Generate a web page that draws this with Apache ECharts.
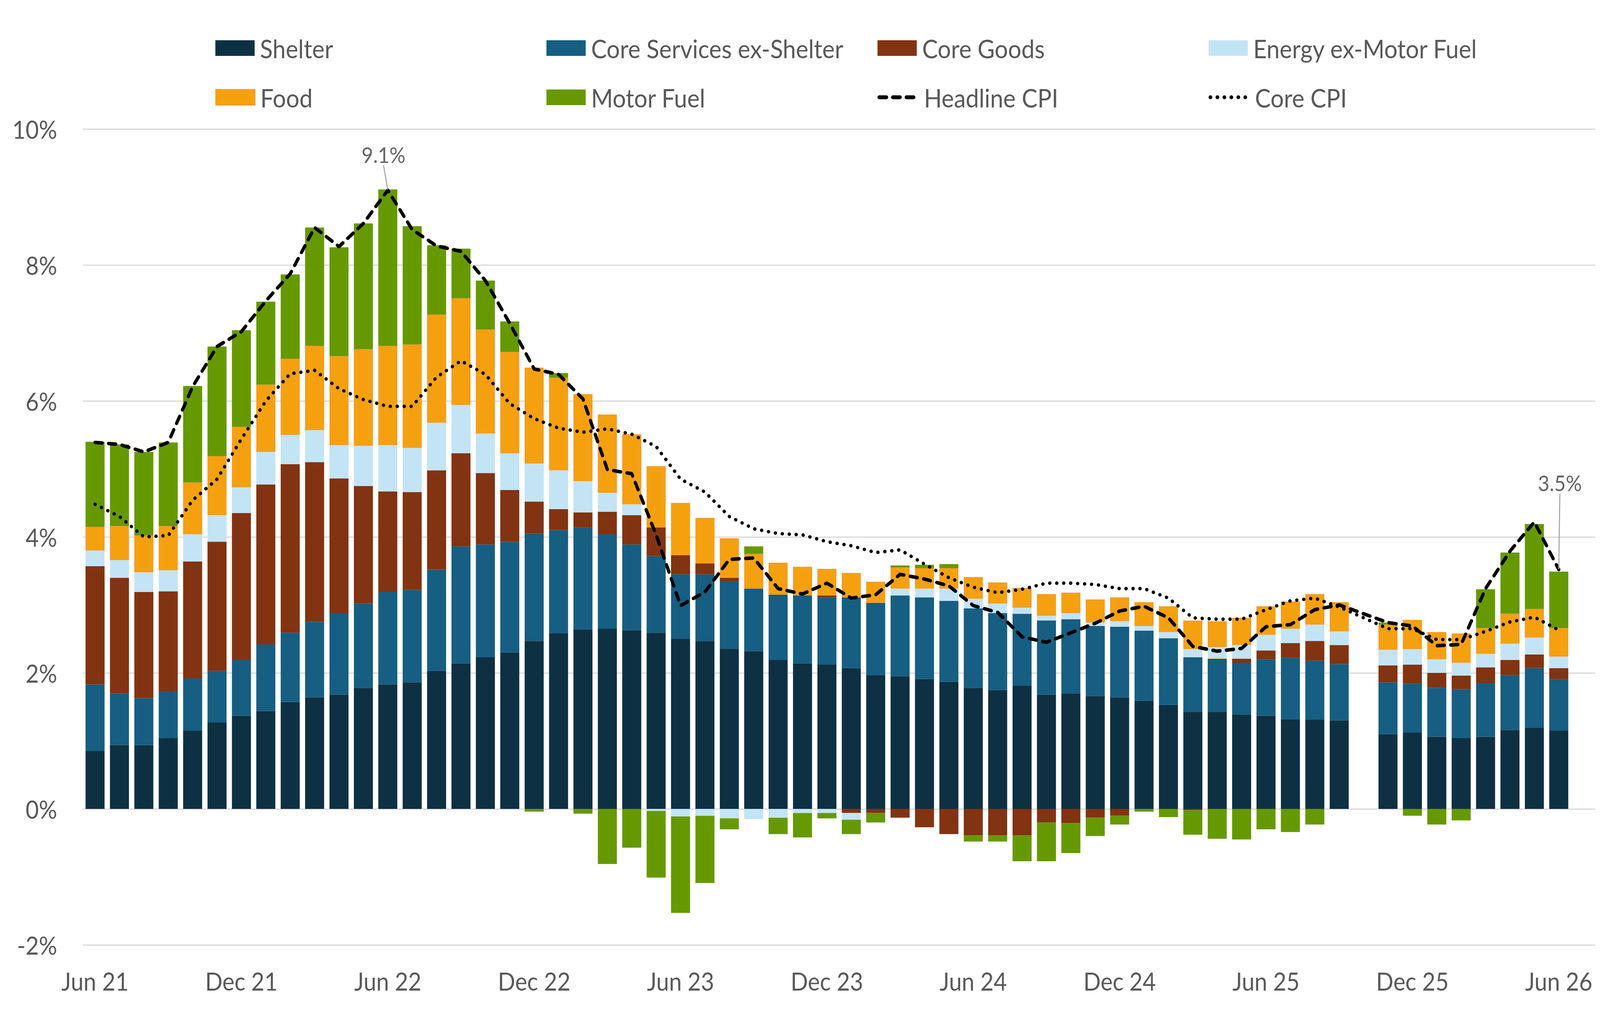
<!DOCTYPE html>
<html>
<head>
<meta charset="utf-8">
<script src="https://cdn.jsdelivr.net/npm/echarts@6/dist/echarts.min.js"></script>
<style>
html,body{margin:0;padding:0;background:#fff;overflow:hidden;}
#chart{width:4480px;height:2600px;transform-origin:0 0;}
</style>
</head>
<body>
<div id="chart"></div>
<script>
// Categories (monthly, Jun 21 .. Jul 26; Oct 25 and Jul 26 have no data)
const months = ["Jun 21","Jul 21","Aug 21","Sep 21","Oct 21","Nov 21","Dec 21","Jan 22","Feb 22","Mar 22","Apr 22","May 22",
"Jun 22","Jul 22","Aug 22","Sep 22","Oct 22","Nov 22","Dec 22","Jan 23","Feb 23","Mar 23","Apr 23","May 23",
"Jun 23","Jul 23","Aug 23","Sep 23","Oct 23","Nov 23","Dec 23","Jan 24","Feb 24","Mar 24","Apr 24","May 24",
"Jun 24","Jul 24","Aug 24","Sep 24","Oct 24","Nov 24","Dec 24","Jan 25","Feb 25","Mar 25","Apr 25","May 25",
"Jun 25","Jul 25","Aug 25","Sep 25","Oct 25","Nov 25","Dec 25","Jan 26","Feb 26","Mar 26","Apr 26","May 26",
"Jun 26","Jul 26"];

const shelter = [0.85,0.94,0.94,1.04,1.15,1.27,1.37,1.44,1.57,1.64,1.68,1.78,1.83,1.86,2.03,
2.14,2.23,2.30,2.47,2.58,2.64,2.65,2.63,2.59,2.50,2.47,2.35,2.32,2.19,2.14,
2.12,2.07,1.97,1.95,1.91,1.87,1.78,1.75,1.81,1.68,1.70,1.66,1.64,1.59,1.53,1.43,
1.43,1.39,1.37,1.32,1.31,1.30,null,1.10,1.12,1.06,1.04,1.06,1.16,1.19,1.15,null];

const coreServices = [0.98,0.76,0.69,0.69,0.77,0.76,0.82,0.98,1.02,1.11,1.20,1.24,1.36,1.36,1.49,
1.72,1.66,1.63,1.58,1.52,1.50,1.39,1.26,1.13,0.95,0.98,1.00,0.92,0.96,1.00,
0.99,1.04,1.06,1.19,1.20,1.19,1.17,1.13,1.06,1.09,1.09,1.03,1.04,1.03,0.98,0.80,
0.76,0.76,0.83,0.90,0.87,0.83,null,0.76,0.72,0.72,0.72,0.79,0.81,0.88,0.76,null];

const coreGoods = [1.74,1.70,1.56,1.47,1.72,1.90,2.16,2.35,2.48,2.35,1.98,1.73,1.48,1.44,1.46,
1.37,1.05,0.76,0.47,0.31,0.22,0.33,0.43,0.42,0.28,0.16,0.05,0.00,0.00,0.00,
0.03,-0.06,-0.06,-0.13,-0.27,-0.37,-0.39,-0.39,-0.39,-0.20,-0.21,-0.13,-0.10,0.00,0.00,-0.02,
0.02,0.06,0.13,0.22,0.29,0.28,null,0.25,0.28,0.22,0.20,0.23,0.22,0.20,0.16,null];

const energyExFuel = [0.23,0.26,0.29,0.31,0.40,0.39,0.38,0.48,0.43,0.47,0.49,0.59,0.68,0.65,0.70,
0.71,0.58,0.54,0.56,0.57,0.46,0.28,0.16,-0.03,-0.11,-0.10,-0.14,-0.15,-0.13,-0.06,
-0.06,-0.10,0.00,0.10,0.13,0.18,0.14,0.14,0.09,0.07,0.09,0.05,0.08,0.07,0.09,0.12,
0.17,0.20,0.23,0.21,0.24,0.20,null,0.23,0.23,0.20,0.19,0.20,0.24,0.25,0.17,null];

const food = [0.35,0.50,0.54,0.65,0.76,0.87,0.89,0.99,1.12,1.24,1.31,1.42,1.46,1.52,1.59,
1.57,1.53,1.49,1.41,1.36,1.28,1.15,1.03,0.90,0.77,0.67,0.58,0.51,0.47,0.42,
0.39,0.36,0.31,0.31,0.30,0.30,0.32,0.31,0.29,0.32,0.30,0.34,0.35,0.35,0.38,0.42,
0.38,0.40,0.42,0.40,0.45,0.43,null,0.37,0.43,0.40,0.43,0.38,0.44,0.42,0.42,null];

const motorFuel = [1.25,1.20,1.23,1.23,1.42,1.61,1.42,1.22,1.24,1.74,1.60,1.85,2.30,1.74,1.02,
0.73,0.72,0.45,-0.04,0.07,-0.07,-0.81,-0.57,-0.98,-1.42,-0.99,-0.16,0.11,-0.24,-0.36,
-0.08,-0.21,-0.14,0.03,0.05,0.06,-0.09,-0.09,-0.38,-0.57,-0.44,-0.27,-0.13,-0.04,-0.12,-0.36,
-0.44,-0.45,-0.30,-0.34,-0.23,0.00,null,0.03,-0.10,-0.23,-0.17,0.57,0.90,1.25,0.83,null];

const headlineCPI = [5.39,5.36,5.25,5.39,6.21,6.80,7.02,7.47,7.87,8.55,8.27,8.61,9.10,8.52,8.28,
8.20,7.77,7.14,6.47,6.39,6.03,4.99,4.93,4.03,2.99,3.19,3.67,3.69,3.24,3.16,
3.32,3.10,3.15,3.45,3.38,3.28,2.99,2.89,2.53,2.45,2.59,2.73,2.91,2.98,2.81,2.39,
2.32,2.36,2.68,2.71,2.93,3.00,null,2.74,2.69,2.40,2.42,3.24,3.79,4.22,3.52,null];

const coreCPI = [4.48,4.30,4.00,4.02,4.54,4.85,5.44,6.00,6.40,6.45,6.18,6.02,5.92,5.92,6.35,
6.59,6.39,5.96,5.74,5.60,5.54,5.59,5.51,5.33,4.85,4.66,4.30,4.12,4.05,4.03,
3.93,3.87,3.77,3.81,3.60,3.40,3.26,3.18,3.23,3.32,3.32,3.30,3.24,3.24,3.10,2.81,
2.79,2.79,2.93,3.06,3.10,2.97,null,2.65,2.65,2.49,2.49,2.61,2.75,2.82,2.63,null];

const yTicks = {min:-2, max:10, interval:2};
const annotatedMonths = ["Jun 22","Jun 26"];

// The browser viewport may be narrower than the 4480px design width: squeeze horizontally to fit.
const el = document.getElementById('chart');
const sx = Math.min(1, window.innerWidth / 4480);
el.style.transform = 'scaleX(' + sx + ')';

const FONT = 'Lato';
const TXT = '#595959';

const annotData = months.map((m,i)=> annotatedMonths.includes(m) ? headlineCPI[i] : null);

function barSeries(name, data, color, extra){
  return Object.assign({
    name, type:'bar', stack:'cpi', data,
    barCategoryGap:'22%',
    itemStyle:{color},
    emphasis:{disabled:true}
  }, extra||{});
}

const series = [
  barSeries('Shelter', shelter, '#0e3043'),
  barSeries('Core Services ex-Shelter', coreServices, '#165e82'),
  barSeries('Core Goods', coreGoods, '#823312'),
  barSeries('Energy ex-Motor Fuel', energyExFuel, '#c3e4f5'),
  barSeries('Food', food, '#f5a10f', {itemStyle:{color:'#f5a10f', borderColor:'#f7962a', borderWidth:2}}),
  barSeries('Motor Fuel', motorFuel, '#669900'),
  {
    name:'Headline CPI', type:'line', data:headlineCPI, connectNulls:true,
    symbol:'none', showSymbol:false, z:5,
    lineStyle:{color:'#000', width:9, type:[20,18], cap:'round', join:'round'},
    itemStyle:{color:'#000'}, emphasis:{disabled:true}
  },
  {
    name:'Core CPI', type:'line', data:coreCPI, connectNulls:true,
    symbol:'none', showSymbol:false, z:5,
    lineStyle:{color:'#000', width:9, type:[0.5,19], cap:'round', join:'round'},
    itemStyle:{color:'#000'}, emphasis:{disabled:true}
  },
  {
    name:'annot', type:'scatter', data:annotData, symbolSize:2, z:6,
    itemStyle:{color:'rgba(0,0,0,0)'},
    label:{show:true, position:'inside', fontFamily:FONT, fontSize:56, color:'#404040',
      formatter:(p)=> { const v = Array.isArray(p.value) ? p.value[1] : p.value; return v==null ? '' : Number(v).toFixed(1)+'%'; }},
    labelLine:{show:true, lineStyle:{color:'#a6a6a6', width:3}},
    labelLayout:(p)=> p.dataIndex===12 ? {dx:-12, dy:-92} : {dx:3, dy:-222},
    emphasis:{disabled:true}, silent:true
  }
];

const legendPos = [
  ['Shelter',603,0,'bar'], ['Core Services ex-Shelter',1530,0,'bar'], ['Core Goods',2457,0,'bar'], ['Energy ex-Motor Fuel',3384,0,'bar'],
  ['Food',603,1,'bar'], ['Motor Fuel',1530,1,'bar'], ['Headline CPI',2457,1,'line'], ['Core CPI',3384,1,'line']
];
const legends = legendPos.map(([name,x,row,kind])=>{
  const lg = {
    data:[name], left:x, top: row===0 ? 90 : 216,
    itemWidth:110, itemHeight:40, padding:0,
    textStyle:{fontFamily:FONT, fontSize:66, color:TXT, padding:[0,0,0,10]},
    selectedMode:false
  };
  if (kind==='bar') { lg.icon = 'rect'; }
  else { lg.lineStyle = {width:10}; lg.itemStyle = {opacity:0}; }
  return lg;
});

const chart = echarts.init(el, null, {renderer:'svg', width:4480, height:2600});
chart.setOption({
  backgroundColor:'#fff',
  animation:false,
  legend: legends,
  grid:{left:232, right:13, top:330, bottom:182, containLabel:false},
  xAxis:{
    type:'category', data:months, boundaryGap:true,
    axisLine:{show:false}, axisTick:{show:false},
    axisLabel:{interval:5, fontFamily:FONT, fontSize:64, color:TXT, margin:60}
  },
  yAxis:{
    type:'value', min:yTicks.min, max:yTicks.max, interval:yTicks.interval,
    axisLine:{show:false}, axisTick:{show:false},
    axisLabel:{formatter:'{value}%', fontFamily:FONT, fontSize:64, color:TXT, margin:72},
    splitLine:{lineStyle:{color:'#d9d9d9', width:3}}
  },
  series
});
</script>
</body>
</html>
